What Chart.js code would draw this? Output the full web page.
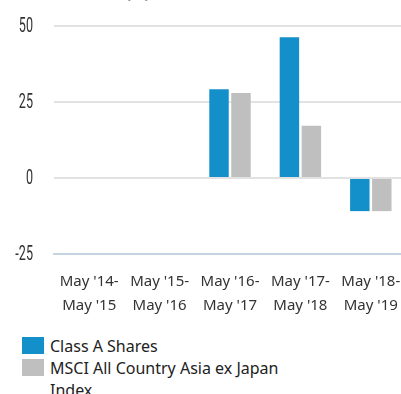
<!DOCTYPE html>
<html>
<head>
<meta charset="utf-8">
<script src="https://cdn.jsdelivr.net/npm/chart.js@4"></script>
<style>
  html, body { margin: 0; padding: 0; background: #fff; overflow: hidden; width: 401px; height: 394px; }
  #wrap { position: relative; width: 401px; height: 394px; overflow: hidden; }
  #title { position: absolute; left: 22px; top: -18px; font: bold 15px "Noto Sans", sans-serif; color: #222; white-space: nowrap; }
  #c { position: absolute; left: 0; top: 0; }
  #legend { position: absolute; left: 22px; top: 335px; width: 280px; font: 16px "Noto Sans", sans-serif; color: #222; }
  .item { position: relative; padding-left: 28px; line-height: 22px; }
  .sw { position: absolute; left: 0; top: 2px; width: 22px; height: 17px; }
</style>
</head>
<body>
<div id="wrap">
  <div id="title">Total Returns (%)</div>
  <canvas id="c" width="406" height="320"></canvas>
  <div id="legend"></div>
</div>
<script>
const periods = [["May '14-", "May '15"], ["May '15-", "May '16"], ["May '16-", "May '17"], ["May '17-", "May '18"], ["May '18-", "May '19"]];
const classAShares = [null, null, 29.2, 46.3, -10.9];
const msciAsiaExJapan = [null, null, 28.0, 17.2, -10.9];
const yTicks = [50, 25, 0, -25];
const seriesNames = ["Class A Shares", "MSCI All Country Asia ex Japan Index"];
const seriesColors = ["#1390c9", "#bfbfbf"];

// Narrow, condensed value labels on the y axis, placed from the scale's own tick positions
const condensedYLabels = {
  id: 'condensedYLabels',
  afterDraw(chart) {
    const y = chart.scales.y;
    const ctx = chart.ctx;
    ctx.save();
    ctx.fillStyle = '#333';
    ctx.font = '400 21px Roboto';
    ctx.textAlign = 'right';
    ctx.textBaseline = 'middle';
    const squeeze = 0.6;
    const rightEdge = 33;
    y.ticks.forEach(t => {
      const py = y.getPixelForValue(t.value);
      ctx.save();
      ctx.translate(rightEdge, py);
      ctx.scale(squeeze, 1);
      ctx.fillText(String(t.value), 0, 1);
      ctx.restore();
    });
    ctx.restore();
  }
};

const chart = new Chart(document.getElementById('c'), {
  type: 'bar',
  data: {
    labels: periods,
    datasets: [
      { label: seriesNames[0], data: classAShares, backgroundColor: seriesColors[0] },
      { label: seriesNames[1], data: msciAsiaExJapan, backgroundColor: seriesColors[1] }
    ]
  },
  plugins: [condensedYLabels],
  options: {
    responsive: false,
    animation: false,
    devicePixelRatio: 1,
    layout: { padding: { top: 26, right: 0, left: 0, bottom: 0 } },
    datasets: { bar: { categoryPercentage: 0.624, barPercentage: 0.886 } },
    plugins: { legend: { display: false }, tooltip: { enabled: false } },
    scales: {
      x: {
        grid: { display: false, drawTicks: false },
        border: { display: true, color: '#c6d3e0', width: 2 },
        ticks: {
          color: '#333',
          font: { family: 'Noto Sans', size: 15, lineHeight: 1.65 },
          padding: 15,
          maxRotation: 0,
          autoSkip: false
        },
        afterFit(s) {
          s.height = 66;
          s.paddingLeft = 0;
          s.paddingRight = 0;
        }
      },
      y: {
        min: -25, max: 50,
        afterBuildTicks(s) { s.ticks = yTicks.map(v => ({ value: v })); },
        grid: { color: '#e2e2e2', lineWidth: 2, drawTicks: false },
        border: { display: false },
        ticks: { display: false },
        afterFit(s) { s.width = 54; }
      }
    }
  }
});

const legend = document.getElementById('legend');
chart.data.datasets.forEach(ds => {
  const el = document.createElement('div');
  el.className = 'item';
  el.innerHTML = '<span class="sw" style="background:' + ds.backgroundColor + '"></span>' + ds.label;
  legend.appendChild(el);
});
</script>
</body>
</html>
